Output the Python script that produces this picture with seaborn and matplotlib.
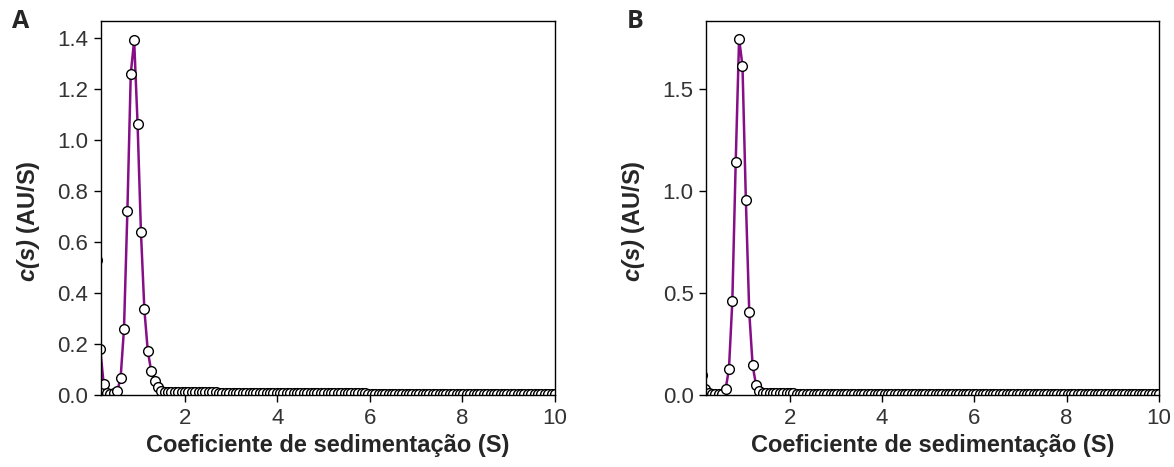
import numpy as np
import pandas as pd
import seaborn as sns
import matplotlib.pyplot as plt

# sedimentation coefficient grid (S), shared by both panels
s_grid = np.linspace(0.1, 10, 136)

# c(s) distribution, panel A
cs_a = [
    0.530, 0.180, 0.045, 0.008, 0.005, 0.006, 0.015, 0.066, 0.259, 0.720,
    1.260, 1.390, 1.064, 0.638, 0.336, 0.174, 0.095, 0.056, 0.030, 0.017,
    0.012, 0.011, 0.010, 0.010, 0.010, 0.010, 0.010, 0.010, 0.010, 0.010,
    0.010, 0.010, 0.010, 0.010, 0.010, 0.010, 0.009, 0.009, 0.008, 0.007,
    0.006, 0.006, 0.006, 0.006, 0.006, 0.006, 0.006, 0.006, 0.006, 0.006,
    0.006, 0.006, 0.006, 0.006, 0.006, 0.006, 0.006, 0.006, 0.006, 0.006,
    0.006, 0.006, 0.006, 0.006, 0.006, 0.006, 0.006, 0.006, 0.006, 0.006,
    0.006, 0.006, 0.006, 0.006, 0.006, 0.006, 0.006, 0.006, 0.006, 0.006,
    0.005, 0.005, 0.005, 0.005, 0.005, 0.005, 0.005, 0.005, 0.005, 0.005,
    0.005, 0.005, 0.005, 0.005, 0.005, 0.005, 0.005, 0.005, 0.005, 0.005,
    0.005, 0.005, 0.005, 0.005, 0.005, 0.005, 0.005, 0.005, 0.005, 0.005,
    0.005, 0.005, 0.005, 0.005, 0.005, 0.005, 0.005, 0.005, 0.005, 0.005,
    0.005, 0.005, 0.005, 0.005, 0.005, 0.005, 0.005, 0.005, 0.005, 0.005,
    0.005, 0.005, 0.005, 0.005, 0.005, 0.005,
]

# c(s) distribution, panel B
cs_b = [
    0.098, 0.030, 0.012, 0.005, 0.004, 0.004, 0.006, 0.028, 0.126, 0.459,
    1.142, 1.747, 1.613, 0.954, 0.405, 0.145, 0.049, 0.020, 0.010, 0.008,
    0.008, 0.008, 0.008, 0.008, 0.008, 0.008, 0.008, 0.008, 0.007, 0.006,
    0.005, 0.005, 0.005, 0.005, 0.005, 0.005, 0.005, 0.005, 0.005, 0.005,
    0.005, 0.005, 0.005, 0.005, 0.005, 0.005, 0.005, 0.005, 0.005, 0.005,
    0.005, 0.005, 0.005, 0.005, 0.005, 0.005, 0.005, 0.005, 0.005, 0.005,
    0.005, 0.005, 0.005, 0.005, 0.005, 0.005, 0.005, 0.005, 0.005, 0.005,
    0.005, 0.005, 0.005, 0.005, 0.005, 0.005, 0.005, 0.005, 0.005, 0.005,
    0.005, 0.005, 0.005, 0.005, 0.005, 0.005, 0.005, 0.005, 0.005, 0.005,
    0.005, 0.005, 0.005, 0.005, 0.005, 0.005, 0.005, 0.005, 0.005, 0.005,
    0.005, 0.005, 0.005, 0.005, 0.005, 0.005, 0.005, 0.005, 0.005, 0.005,
    0.005, 0.005, 0.005, 0.005, 0.005, 0.005, 0.005, 0.005, 0.005, 0.005,
    0.005, 0.005, 0.005, 0.005, 0.005, 0.005, 0.005, 0.005, 0.005, 0.005,
    0.005, 0.005, 0.005, 0.005, 0.005, 0.005,
]

x_ticks = [2, 4, 6, 8, 10]
y_ticks_a = [0.0, 0.2, 0.4, 0.6, 0.8, 1.0, 1.2, 1.4]
y_ticks_b = [0.0, 0.5, 1.0, 1.5]

sns.set_style("ticks")
plt.rcParams["font.family"] = ["Liberation Sans", "DejaVu Sans"]
# c(s) is set in bold italic, parentheses included
plt.rcParams["mathtext.fontset"] = "custom"
plt.rcParams["mathtext.rm"] = "Liberation Sans:italic:bold"
plt.rcParams["mathtext.it"] = "Liberation Sans:italic:bold"

PURPLE = "#860f88"

fig = plt.figure(figsize=(11.74, 4.67), dpi=100)
ax_a = fig.add_axes([101 / 1174, 72 / 467, 454 / 1174, 374 / 467])
ax_b = fig.add_axes([706 / 1174, 72 / 467, 453 / 1174, 374 / 467])

panels = [
    (ax_a, cs_a, y_ticks_a, (0, 1.466), "A", 0.010),
    (ax_b, cs_b, y_ticks_b, (0, 1.833), "B", 0.534),
]

for ax, vals, yt, ylim, letter, lx in panels:
    df = pd.DataFrame({"s": s_grid, "cs": vals})
    sns.lineplot(
        data=df, x="s", y="cs", ax=ax,
        color=PURPLE, linewidth=1.8,
        marker="o", markersize=7,
        markerfacecolor="white", markeredgecolor="black", markeredgewidth=1.0,
    )
    ax.set_xlim(0.19, 10)
    ax.set_ylim(*ylim)
    ax.set_xticks(x_ticks)
    ax.set_yticks(yt)
    ax.set_yticklabels(["%.1f" % v for v in yt])
    for sp in ax.spines.values():
        sp.set_visible(True)
        sp.set_color("black")
        sp.set_linewidth(1.0)
    ax.tick_params(axis="both", direction="out", length=5, width=1.0,
                   labelsize=16, labelcolor="#333333", color="black", pad=4)
    ax.set_xlabel("Coeficiente de sedimentação (S)", fontsize=17,
                  fontweight="bold", labelpad=4)
    ax.set_ylabel(r"$c(s)$ (AU/S)", fontsize=17, fontweight="bold")
    ax.yaxis.set_label_coords(-0.13, 0.465)
    fig.text(lx, 0.953, letter, fontsize=18, fontweight="bold",
             family=["Open Sans", "DejaVu Sans"], va="center")

fig.savefig("out.png", dpi=100)
